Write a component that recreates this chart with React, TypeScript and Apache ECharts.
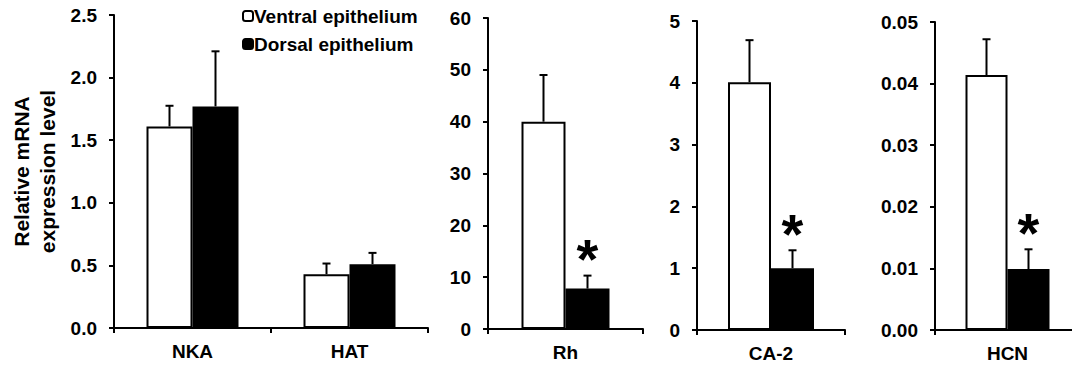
import React, { useEffect, useRef } from "react";
import * as echarts from "echarts";

// Genes per panel
const panelCategories: string[][] = [["NKA", "HAT"], ["Rh"], ["CA-2"], ["HCN"]];

// Mean relative expression and SEM, ventral epithelium
const ventralMeans: number[][] = [[1.61, 0.43], [40.0], [4.01], [0.0414]];
const ventralErrors: number[][] = [[0.165, 0.085], [9.0], [0.68], [0.0058]];

// Mean relative expression and SEM, dorsal epithelium
const dorsalMeans: number[][] = [[1.77, 0.51], [7.8], [1.0], [0.0099]];
const dorsalErrors: number[][] = [[0.44, 0.09], [2.5], [0.29], [0.0032]];

// Significant difference from ventral (asterisk over the dorsal bar)
const dorsalSignificant: boolean[][] = [[false, false], [true], [true], [true]];

// Y-axis scales per panel
const yMax = [2.5, 60, 5, 0.05];
const yStep = [0.5, 10, 1, 0.01];
const yDecimals = [1, 0, 0, 2];

const VENTRAL = "Ventral epithelium";
const DORSAL = "Dorsal epithelium";
const FONT = "Liberation Sans, Arial, sans-serif";

const grids = [
  { left: 114, top: 15, width: 314, height: 313 },
  { left: 488, top: 18, width: 155, height: 311 },
  { left: 697, top: 21, width: 148, height: 309 },
  { left: 935, top: 22, width: 145, height: 308 },
];
const barWidths = [46, 44, 43, 42];

export default function App() {
  const ref = useRef<HTMLDivElement>(null);

  useEffect(() => {
    if (!ref.current) return;
    const chart = echarts.init(ref.current, null, { renderer: "svg" });

    const axisLine = { show: true, lineStyle: { color: "#000", width: 2 } };
    const axisTick = { show: true, length: 5, lineStyle: { color: "#000", width: 2 } };
    const labelStyle = { color: "#000", fontFamily: FONT, fontWeight: "bold" as const, fontSize: 19 };

    const xAxis = panelCategories.map((cats, i) => ({
      type: "category" as const,
      gridIndex: i,
      data: cats,
      axisLine,
      axisTick: { ...axisTick, alignWithLabel: false },
      axisLabel: { ...labelStyle, margin: 14 },
      splitLine: { show: false },
    }));

    const yAxis = yMax.map((max, i) => ({
      type: "value" as const,
      gridIndex: i,
      min: 0,
      max,
      interval: yStep[i],
      axisLine,
      axisTick,
      splitLine: { show: false },
      axisLabel: {
        ...labelStyle,
        margin: 17,
        formatter: (v: number) => v.toFixed(yDecimals[i]),
      },
      ...(i === 0
        ? {
            name: "Relative mRNA\nexpression level",
            nameLocation: "middle" as const,
            nameGap: 54,
            nameRotate: 90,
            nameTextStyle: {
              color: "#000",
              fontFamily: FONT,
              fontWeight: "bold" as const,
              fontSize: 21,
              lineHeight: 26,
            },
          }
        : {}),
    }));

    const series: any[] = [];
    panelCategories.forEach((cats, i) => {
      series.push({
        name: VENTRAL,
        type: "bar",
        xAxisIndex: i,
        yAxisIndex: i,
        data: ventralMeans[i],
        barWidth: barWidths[i],
        barGap: "0%",
        itemStyle: { color: "#fff", borderColor: "#000", borderWidth: 2 },
      });
      series.push({
        name: DORSAL,
        type: "bar",
        xAxisIndex: i,
        yAxisIndex: i,
        data: dorsalMeans[i],
        barWidth: barWidths[i],
        barGap: "0%",
        itemStyle: { color: "#000", borderColor: "#000", borderWidth: 2 },
      });

      // Upper error whiskers, with an asterisk where flagged
      const errData: number[][] = [];
      cats.forEach((_, c) => {
        errData.push([c, ventralMeans[i][c], ventralErrors[i][c], -1, 0]);
        errData.push([c, dorsalMeans[i][c], dorsalErrors[i][c], 1, dorsalSignificant[i][c] ? 1 : 0]);
      });
      const bw = barWidths[i];
      series.push({
        type: "custom",
        xAxisIndex: i,
        yAxisIndex: i,
        silent: true,
        z: 5,
        data: errData,
        renderItem: (_params: any, api: any) => {
          const c = api.value(0);
          const mean = api.value(1);
          const err = api.value(2);
          const side = api.value(3);
          const sig = api.value(4);
          const base = api.coord([c, mean]);
          const top = api.coord([c, mean + err]);
          const x = base[0] + (side * bw) / 2;
          const line = { stroke: "#000", lineWidth: 2 };
          const children: any[] = [
            { type: "line", shape: { x1: x, y1: base[1], x2: x, y2: top[1] }, style: line },
            { type: "line", shape: { x1: x - 4, y1: top[1], x2: x + 4, y2: top[1] }, style: line },
          ];
          if (sig) {
            children.push({
              type: "text",
              x,
              y: top[1] - 17,
              style: {
                text: "*",
                fill: "#000",
                font: `bold 56px ${FONT}`,
                align: "center",
                verticalAlign: "middle",
              },
            });
          }
          return { type: "group", children };
        },
      });
    });

    chart.setOption({
      animation: false,
      backgroundColor: "#fff",
      grid: grids.map((g) => ({ ...g, containLabel: false, outerBoundsMode: "none" })),
      legend: {
        data: [VENTRAL, DORSAL],
        orient: "vertical",
        left: 237,
        top: 1,
        itemWidth: 10,
        itemHeight: 10,
        itemGap: 8,
        selectedMode: false,
        textStyle: { ...labelStyle, fontSize: 19, lineHeight: 20, padding: [0, 0, 0, -4] },
      },
      xAxis,
      yAxis,
      series,
    });

    return () => chart.dispose();
  }, []);

  return (
    <div
      ref={ref}
      style={{ position: "absolute", left: 0, top: 0, width: 1072, height: 368, background: "#fff" }}
    />
  );
}
